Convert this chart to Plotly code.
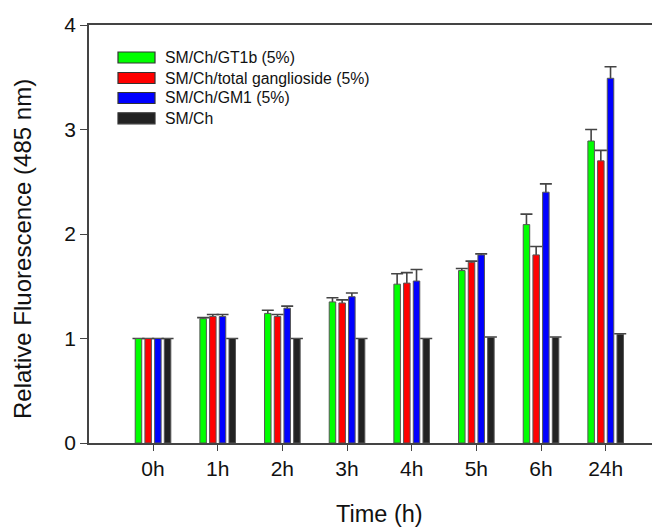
import plotly.graph_objects as go

categories = ["0h", "1h", "2h", "3h", "4h", "5h", "6h", "24h"]
series_names = ["SM/Ch/GT1b (5%)", "SM/Ch/total ganglioside (5%)", "SM/Ch/GM1 (5%)", "SM/Ch"]
gt1b = [1.00, 1.19, 1.24, 1.35, 1.52, 1.65, 2.09, 2.89]
gt1b_err = [None, 0.01, 0.03, 0.04, 0.10, 0.02, 0.10, 0.11]
total = [1.00, 1.21, 1.21, 1.34, 1.53, 1.73, 1.80, 2.70]
total_err = [None, 0.02, 0.02, 0.03, 0.10, 0.01, 0.08, 0.10]
gm1 = [1.00, 1.21, 1.29, 1.40, 1.55, 1.80, 2.40, 3.49]
gm1_err = [None, 0.02, 0.02, 0.035, 0.11, 0.01, 0.08, 0.11]
smch = [1.00, 1.00, 1.00, 1.00, 1.00, 1.01, 1.01, 1.04]
smch_err = [None, None, None, None, None, 0.005, 0.005, 0.005]
y_ticks = [0, 1, 2, 3, 4]

values = [gt1b, total, gm1, smch]
errors = [gt1b_err, total_err, gm1_err, smch_err]
colors = ["#00ff00", "#ff0000", "#0000ff", "#222222"]

FONT = "Liberation Sans, Arial, sans-serif"
OFF = 8  # page body margin offset
W, H = 660 - OFF, 527 - OFF
# plot area in screenshot pixels
L, R, T, B = 89, 660, 25, 443


def px(x):
    return (x - L) / (R - L)


def py(y):
    return (B - y) / (B - T)


fig = go.Figure()
for k, (name, vals, errs, col) in enumerate(zip(series_names, values, errors, colors)):
    # invisible carrier for the upper error bar (drawn beneath the real bar)
    minus = [None if e is None else v + 0.2 for v, e in zip(vals, errs)]
    fig.add_trace(go.Bar(
        x=categories, y=vals, offsetgroup=str(k), showlegend=False,
        marker=dict(color="rgba(0,0,0,0)", line=dict(width=0)),
        error_y=dict(type="data", symmetric=False, array=errs, arrayminus=minus,
                     color="#444444", thickness=1.6, width=6),
        hoverinfo="skip",
    ))
    fig.add_trace(go.Bar(
        x=categories, y=vals, offsetgroup=str(k), name=name, showlegend=False,
        marker=dict(color=col, line=dict(color="#555555", width=1)),
    ))

# manual legend
row_centers = [57.5, 78, 98, 118.3]
for name, col, c in zip(series_names, colors, row_centers):
    fig.add_shape(type="rect", xref="paper", yref="paper",
                  x0=px(118), x1=px(155), y0=py(c + 5.5), y1=py(c - 5.5),
                  fillcolor=col, line=dict(color="#333333", width=1.2))
    fig.add_annotation(xref="paper", yref="paper", x=px(163), y=py(c),
                       xanchor="left", yanchor="middle", showarrow=False,
                       text=name, font=dict(family=FONT, size=15.8, color="#111111"))

fig.add_annotation(xref="paper", yref="paper", x=px(22), y=py(249),
                   xanchor="center", yanchor="middle", showarrow=False, textangle=-90,
                   text="Relative Fluorescence (485 nm)",
                   font=dict(family=FONT, size=24, color="#111111"))
fig.add_annotation(xref="paper", yref="paper", x=px(379), y=py(514),
                   xanchor="center", yanchor="middle", showarrow=False, borderpad=0,
                   text="Time (h)", font=dict(family=FONT, size=23.5, color="#111111"))

fig.update_layout(
    width=W, height=H,
    margin=dict(l=L - OFF, r=(660 - OFF) - (R - OFF), t=T - OFF, b=H - (B - OFF), pad=0),
    paper_bgcolor="white", plot_bgcolor="white",
    barmode="group", bargap=0.4, bargroupgap=0.33,
    showlegend=False,
    xaxis=dict(type="category", range=[-0.99, 7.84], showline=True, mirror=True,
               linecolor="#444444", linewidth=1.5, ticks="outside", ticklen=6,
               tickcolor="#444444", tickwidth=1.2, showgrid=False, zeroline=False,
               tickfont=dict(family=FONT, size=21, color="#111111")),
    yaxis=dict(range=[0, 4], tickvals=y_ticks, showline=True, linecolor="#444444",
               linewidth=1.5, ticks="outside", ticklen=7, tickcolor="#444444",
               tickwidth=1.2, showgrid=False, zeroline=False,
               tickfont=dict(family=FONT, size=21, color="#111111")),
)

fig.write_html("out.html")
